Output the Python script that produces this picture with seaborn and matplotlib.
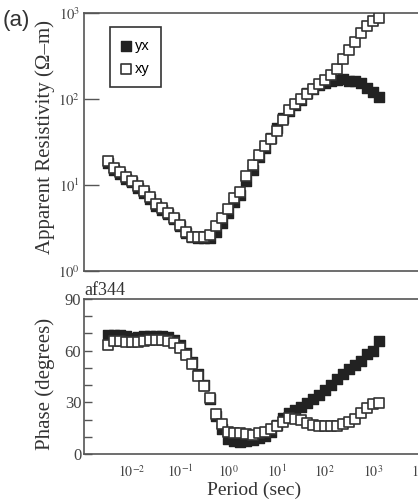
# MT sounding af344: apparent resistivity and phase vs period
import numpy as np
import pandas as pd
import matplotlib
matplotlib.use("Agg")
import matplotlib.pyplot as plt
import seaborn as sns
from matplotlib.ticker import FixedLocator, FuncFormatter, NullFormatter, NullLocator

# periods (log10 sec)
log_period = [-2.5, -2.375, -2.25, -2.125, -2.0, -1.875, -1.75, -1.625, -1.5, -1.375,
              -1.25, -1.125, -1.0, -0.875, -0.75, -0.625, -0.5, -0.375, -0.25, -0.125,
              0.0, 0.125, 0.25, 0.375, 0.5, 0.625, 0.75, 0.875, 1.0, 1.125,
              1.25, 1.375, 1.5, 1.625, 1.75, 1.875, 2.0, 2.125, 2.25, 2.375,
              2.5, 2.625, 2.75, 2.875, 3.0, 3.125]

# apparent resistivity (log10 ohm-m)
log_rho_yx = [1.26, 1.18, 1.13, 1.07, 1.03, 0.97, 0.91, 0.84, 0.76, 0.71,
              0.66, 0.60, 0.52, 0.44, 0.39, 0.38, 0.38, 0.38, 0.45, 0.56,
              0.68, 0.80, 0.88, 1.05, 1.18, 1.32, 1.43, 1.55, 1.66, 1.78,
              1.86, 1.93, 1.99, 2.07, 2.12, 2.16, 2.19, 2.21, 2.22, 2.23,
              2.21, 2.21, 2.19, 2.13, 2.08, 2.02]
log_rho_xy = [1.28, 1.20, 1.15, 1.09, 1.05, 0.99, 0.93, 0.86, 0.78, 0.73,
              0.68, 0.62, 0.54, 0.45, 0.40, 0.39, 0.39, 0.42, 0.52, 0.62,
              0.72, 0.85, 0.92, 1.10, 1.23, 1.35, 1.45, 1.54, 1.63, 1.76,
              1.87, 1.94, 2.00, 2.06, 2.12, 2.18, 2.22, 2.28, 2.35, 2.46,
              2.57, 2.66, 2.77, 2.85, 2.91, 2.94]

# phase (degrees)
phase_yx = [69.0, 69.2, 69.0, 68.5, 67.5, 67.8, 68.3, 68.5, 68.5, 68.3,
            67.8, 66.0, 63.5, 58.5, 53.5, 46.5, 40.0, 32.0, 22.0, 14.5,
            9.0, 7.5, 7.2, 7.5, 8.3, 9.3, 10.5, 12.5, 17.0, 21.0,
            23.8, 25.5, 27.2, 29.5, 32.0, 34.5, 37.0, 40.0, 43.5, 46.5,
            49.2, 51.5, 54.0, 58.0, 60.0, 65.5]
phase_xy = [63.5, 65.8, 65.5, 65.2, 64.8, 64.8, 65.8, 66.2, 66.2, 66.2,
            65.5, 64.3, 61.5, 57.5, 52.5, 45.5, 39.5, 32.5, 23.5, 17.5,
            13.0, 12.2, 12.0, 11.5, 11.2, 12.0, 13.0, 14.5, 16.0, 18.5,
            20.8, 20.5, 19.8, 18.0, 16.8, 16.3, 16.0, 16.0, 16.3, 17.2,
            18.3, 20.5, 23.8, 26.5, 29.0, 29.8]

period = 10 ** np.array(log_period)
df = pd.DataFrame({
    "period": period,
    "rho_yx": 10 ** np.array(log_rho_yx),
    "rho_xy": 10 ** np.array(log_rho_xy),
    "phase_yx": phase_yx,
    "phase_xy": phase_xy,
})

plt.rcParams["font.family"] = ["Liberation Serif", "DejaVu Serif"]
plt.rcParams["mathtext.fontset"] = "stix"
spine_c = "#555555"
text_c = "#444444"

W, H = 418, 499
fig = plt.figure(figsize=(W / 100, H / 100), dpi=100)
ax1 = fig.add_axes([84 / W, (H - 271) / H, 337 / W, 258 / H])
ax2 = fig.add_axes([84 / W, (H - 454) / H, 337 / W, 155 / H])

mk = dict(marker="s", s=42)
for ax, a, b in [(ax1, "rho_yx", "rho_xy"), (ax2, "phase_yx", "phase_xy")]:
    sns.scatterplot(data=df, x="period", y=a, color="#222222", edgecolor="#222222",
                    linewidth=1.0, label="yx", ax=ax, zorder=3, **mk)
    sns.scatterplot(data=df, x="period", y=b, color="white", edgecolor="#333333",
                    linewidth=1.2, label="xy", ax=ax, zorder=4, **mk)
    ax.set_xscale("log")
    ax.set_xlim(1e-3, 1e4)
    for s in ax.spines.values():
        s.set_color(spine_c)
        s.set_linewidth(1.2)
    ax.xaxis.set_major_locator(FixedLocator([10.0 ** k for k in range(-2, 5)]))
    ax.xaxis.set_minor_locator(FixedLocator([1e-2, 1e0, 1e2, 1e4]))
    ax.xaxis.set_minor_formatter(NullFormatter())
    ax.tick_params(axis="x", which="major", length=0, pad=7, labelsize=10, colors=text_c)
    ax.tick_params(axis="x", which="minor", direction="in", length=9.5, width=1.0,
                   color=spine_c)
    ax.set_xlabel("")
    ax.set_ylabel("")

dec_fmt = FuncFormatter(lambda v, _: r"$10^{%d}$" % int(round(np.log10(v))))

# top panel: resistivity
ax1.set_yscale("log")
ax1.set_ylim(1, 1000)
ax1.yaxis.set_major_locator(FixedLocator([1, 10, 100, 1000]))
ax1.yaxis.set_major_formatter(dec_fmt)
ax1.yaxis.set_minor_locator(NullLocator())
ax1.tick_params(axis="y", direction="in", length=11, width=1.0, color=spine_c,
                labelsize=10.5, labelcolor=text_c, pad=3)
ax1.xaxis.set_major_formatter(NullFormatter())
ax1.set_ylabel("Apparent Resistivity (Ω–m)", fontsize=15, color="#333333")
ax1.yaxis.set_label_coords(-0.085, 0.52)
leg = ax1.legend(loc="upper left", bbox_to_anchor=(0.077, 0.945), frameon=True,
                 fancybox=False, edgecolor="#333333", framealpha=1,
                 handletextpad=0.3, handlelength=0.6, borderpad=0.8,
                 labelspacing=0.6, borderaxespad=0,
                 prop={"family": "Liberation Sans", "size": 10.5})
leg.get_frame().set_linewidth(1.2)

# bottom panel: phase
ax2.set_ylim(0, 90)
ax2.yaxis.set_major_locator(FixedLocator(list(range(0, 91, 10))))
ax2.yaxis.set_major_formatter(FuncFormatter(lambda v, _: "%d" % v if int(v) % 30 == 0 else ""))
ax2.yaxis.set_minor_locator(FixedLocator([20, 40, 60, 80]))
ax2.tick_params(axis="y", which="major", direction="in", length=5.5, width=1.0,
                color=spine_c, labelsize=12, labelcolor=text_c, pad=2)
ax2.tick_params(axis="y", which="minor", direction="in", length=11, width=1.0,
                color=spine_c)
ax2.xaxis.set_major_formatter(dec_fmt)
ax2.legend_.remove()
ax2.set_title("af344", loc="left", fontsize=13, color="#333333", pad=1)
ax2.set_ylabel("Phase (degrees)", fontsize=15, color="#333333")
ax2.yaxis.set_label_coords(-0.085, 0.45)
ax2.set_xlabel("Period (sec)", fontsize=14, color="#333333")
ax2.xaxis.set_label_coords(0.504, -0.178)

fig.text(3 / W, 1 - 10 / H, "(a)", fontsize=16, family="Liberation Sans",
         color="#333333", ha="left", va="top")

fig.savefig("out.png", dpi=100)
